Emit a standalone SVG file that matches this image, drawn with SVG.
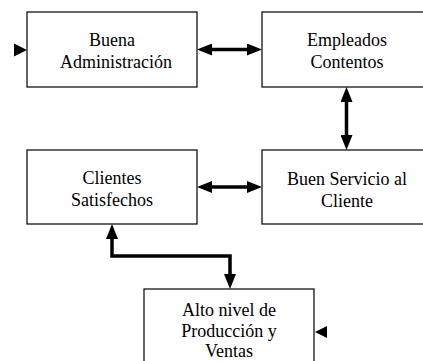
<svg xmlns="http://www.w3.org/2000/svg" width="423" height="361" viewBox="0 0 423 361">
<style>
.box{fill:#fff;stroke:#000;stroke-width:1.2}
.lbl{font-family:'Liberation Serif','DejaVu Serif',serif;font-size:18px;fill:#000;text-anchor:middle}
.con{fill:none;stroke:#000;stroke-width:3.5;stroke-linejoin:miter}
</style>
<defs>
<marker id="ah" markerUnits="userSpaceOnUse" markerWidth="16" markerHeight="12" refX="3" refY="6" orient="auto-start-reverse" viewBox="0 0 16 12">
<path d="M0,0 L15,6 L0,12 z" fill="#000"/>
</marker>
</defs>
<rect width="423" height="361" fill="#fff"/>
<g id="n1">
<rect class="box" x="27" y="12" width="170" height="75"/>
<text class="lbl" font-family="Liberation Serif, serif" x="112" y="46">Buena</text>
<text class="lbl" font-family="Liberation Serif, serif" x="116" y="68">Administración</text>
</g>
<g id="n2">
<rect class="box" x="262" y="12" width="170" height="75"/>
<text class="lbl" font-family="Liberation Serif, serif" x="347" y="46">Empleados</text>
<text class="lbl" font-family="Liberation Serif, serif" x="347" y="68">Contentos</text>
</g>
<g id="n3">
<rect class="box" x="27" y="150" width="170" height="74"/>
<text class="lbl" font-family="Liberation Serif, serif" x="112" y="184">Clientes</text>
<text class="lbl" font-family="Liberation Serif, serif" x="112" y="206">Satisfechos</text>
</g>
<g id="n4">
<rect class="box" x="262" y="150" width="170" height="74"/>
<text class="lbl" font-family="Liberation Serif, serif" x="347" y="185">Buen Servicio al</text>
<text class="lbl" font-family="Liberation Serif, serif" x="347" y="207">Cliente</text>
</g>
<g id="n5">
<rect class="box" x="144" y="289" width="170" height="80"/>
<text class="lbl" font-family="Liberation Serif, serif" x="229" y="316">Alto nivel de</text>
<text class="lbl" font-family="Liberation Serif, serif" x="229" y="337">Producción y</text>
<text class="lbl" font-family="Liberation Serif, serif" x="229" y="357">Ventas</text>
</g>
<g id="connectors">
<line class="con" x1="209" y1="49.5" x2="250" y2="49.5" marker-start="url(#ah)" marker-end="url(#ah)"/>
<line class="con" x1="346.5" y1="99" x2="346.5" y2="138" marker-start="url(#ah)" marker-end="url(#ah)"/>
<line class="con" x1="209" y1="187" x2="250" y2="187" marker-start="url(#ah)" marker-end="url(#ah)"/>
<path class="con" d="M112,236 L112,256 L230,256 L230,277" marker-start="url(#ah)" marker-end="url(#ah)"/>
<path d="M14,43.5 L27,50 L14,56.5 z" fill="#000"/>
<path d="M327,326 L315,332 L327,338 z" fill="#000"/>
</g>
</svg>
